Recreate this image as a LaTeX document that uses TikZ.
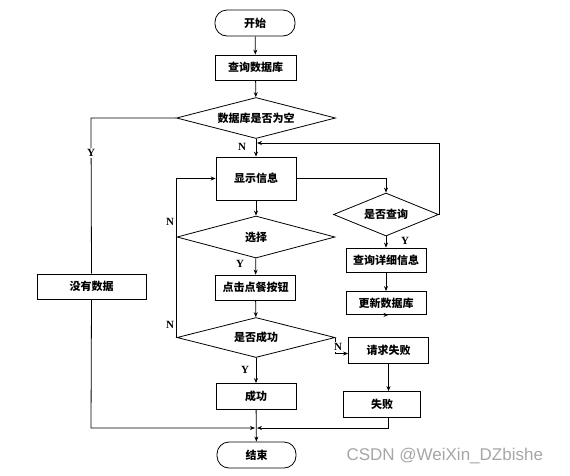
\documentclass[tikz,border=0pt]{standalone}
\usepackage{fontspec}
\setmainfont{Liberation Serif}
\newfontfamily\cjk{Noto Sans CJK SC}
\newfontfamily\wmfont{Liberation Sans}
\usetikzlibrary{shapes.geometric,arrows.meta}
\begin{document}
\begin{tikzpicture}[x=1pt,y=-1pt,
  every node/.style={font=\cjk\bfseries\fontsize{11}{13}\selectfont},
  box/.style={draw, thick, minimum width=80pt, minimum height=25pt, inner sep=1pt},
  term/.style={draw, thick, rounded corners=12pt, minimum width=80pt, minimum height=26pt},
  dia/.style={draw, thick, diamond, aspect=3.8, inner sep=0pt},
  lab/.style={font=\bfseries\fontsize{11}{13}\selectfont, fill=white, inner sep=1pt},
  arr/.style={-{Stealth[length=5pt,width=4pt]}},
  line/.style={thick}]
\useasboundingbox (0,0) rectangle (570,475);
\node[term] (start) at (255,23) {开始};
\node[box, minimum width=81pt] (q1) at (255.5,67.5) {查询数据库};
\node[dia, minimum width=159pt, minimum height=41pt] (d1) at (256,118) {数据库是否为空};
\node[box, minimum width=109pt] (nodata) at (91.5,286.5) {没有数据};
\node[box, minimum height=43pt] (show) at (256,178.5) {显示信息};
\node[dia, minimum width=105pt, minimum height=43pt] (d2) at (386,214.5) {是否查询};
\node[box, minimum height=24pt] (detail) at (386,260) {查询详细信息};
\node[box, minimum height=23pt] (update) at (386,303) {更新数据库};
\node[box, minimum height=26pt] (fail1) at (388.5,350.5) {请求失败};
\node[box, minimum width=77pt, minimum height=26pt] (fail) at (382,404.5) {失败};
\node[dia, minimum width=158pt, minimum height=42pt] (d3) at (256,237) {选择};
\node[box] (click) at (255.5,287.5) {点击点餐按钮};
\node[dia, minimum width=158pt, minimum height=40pt] (d4) at (256,337.5) {是否成功};
\node[box, minimum height=26pt] (ok) at (256,396.5) {成功};
\node[term, minimum width=79pt] (end) at (256.5,455) {结束};
\coordinate (m) at (256,428);
\coordinate (j) at (256,143);
\coordinate (lt) at (91,118);
\coordinate (lb) at (91,428);
\coordinate (rt) at (438,143);
% main column
\draw[line,arr] (start) -- (q1);
\draw[line,arr] (q1) -- (d1);
\draw[line,arr] (d1) -- (show);
\node[lab] at (242,147) {N};
\draw[line,arr] (show) -- (d3);
\draw[line,arr] (d3) -- (click);
\node[lab] at (240,264) {Y};
\draw[line,arr] (click) -- (d4);
\draw[line,arr] (d4) -- (ok);
\node[lab] at (245,370) {Y};
\draw[line,arr] (ok) -- (end);
% left: empty database
\draw[line] (d1.west) -- (lt) -- (nodata.north);
\node[lab] at (91,153) {Y};
\draw[line,arr] (nodata.south) -- (lb) -- ([xshift=-1pt]m);
% N loops back to show
\draw[line,arr] (d3.west) |- (show.west);
\node[lab] at (170,222) {N};
\draw[line] (d4.west) -- (d3.west);
\node[lab] at (170,325) {N};
% right branch
\draw[line,arr] (show.east) -| (d2.north);
\draw[line,arr] (d2.east) -- (d2.east |- rt) -- ([xshift=1pt]j);
\draw[line,arr] (d2.south) -- (detail.north);
\node[lab] at (405,241) {Y};
\draw[line,arr] (detail.south) -- (detail.south |- update.north);
\draw[line,arr] (update.south) -- (update.south -| fail1.north);
\draw[line,arr] (d4.east) |- ([yshift=-3pt]fail1.west);
\node[lab] at (338,347) {N};
\draw[line,arr] (fail1.south) -- (fail1.south |- fail.north);
\draw[line,arr] (fail1.south |- fail.south) -- (fail1.south |- m) -- ([xshift=1pt]m);
\node[font=\wmfont\fontsize{17}{20}\selectfont, text=black!35, anchor=west] (wm) at (343,456) {CSDN @WeiXin\_DZbishe};
\end{tikzpicture}
\end{document}
